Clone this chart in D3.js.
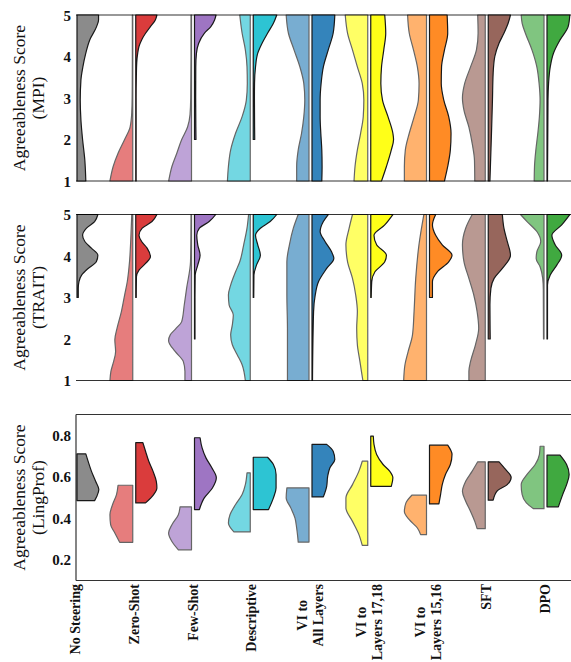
<!DOCTYPE html>
<html>
<head>
<meta charset="utf-8">
<script src="https://cdn.jsdelivr.net/npm/d3@7"></script>
<style>
  html, body { margin: 0; padding: 0; background: #fff; }
  svg { display: block; }
</style>
</head>
<body>
<svg id="chart" width="571" height="662"></svg>
<script>
// ---------------- DATA ----------------
const categories = ["No Steering", "Zero-Shot", "Few-Shot", "Descriptive", "VI to All Layers",
  "VI to Layers 17,18", "VI to Layers 15,16", "SFT", "DPO"];
const categoryLabelLines = [["No Steering"], ["Zero-Shot"], ["Few-Shot"], ["Descriptive"],
  ["VI to", "All Layers"], ["VI to", "Layers 17,18"], ["VI to", "Layers 15,16"], ["SFT"], ["DPO"]];
const categoryColors = ["#7f7f7f", "#d62728", "#9467bd", "#17becf", "#1f77b4",
  "#ffff00", "#ff7f0e", "#8c564b", "#2ca02c"];

const mpiTicks = [1, 2, 3, 4, 5];
const traitTicks = [1, 2, 3, 4, 5];
const lingTicks = [0.2, 0.4, 0.6, 0.8];

// density profiles: [score, relative density]; left half = lighter, right half = darker
const mpiLeft = [
  null,
  [[1,23.3],[1.35,20],[1.67,15],[2,8.3],[2.3,2.7],[2.65,1],[3,0.6],[4,0.4],[5,0.4]],
  [[1,23.3],[1.35,20],[1.67,15],[2,10],[2.3,4],[2.6,1.5],[3,0.8],[4,0.5],[5,0.5]],
  [[1,23.3],[1.35,22.3],[1.75,20],[2.15,15],[2.55,8.3],[2.95,4],[3.35,3],[3.75,3.3],[4.16,5],[4.56,8.3],[5,10.7]],
  [[1,12.6],[1.35,12.6],[1.75,11],[2.15,7.6],[2.55,5.3],[2.95,4.3],[3.35,5.3],[3.75,9.3],[4.16,15.3],[4.56,21],[5,23.3]],
  [[1,14],[1.35,13],[1.75,10.6],[2.15,7.3],[2.55,4.6],[2.95,4],[3.35,5.6],[3.75,10.6],[4.16,15.6],[4.56,20.6],[5,23]],
  [[1,22.6],[1.35,22.6],[1.75,21.6],[2.15,17.6],[2.55,12.6],[2.95,8.3],[3.35,7.6],[3.75,9.3],[4.16,13.3],[4.56,17.6],[5,19.3]],
  [[1,10.7],[1.5,11],[1.9,13.3],[2.3,16.7],[2.7,21.7],[3,23.3],[3.35,21],[3.75,15],[4.16,9],[4.56,7.3],[5,7.7]],
  [[1,10],[1.35,9.7],[1.75,8.3],[2.15,6.3],[2.55,4.7],[2.95,4],[3.35,5],[3.75,7.3],[4.16,12.3],[4.56,19],[4.8,22.3],[5,23.3]]
];
const mpiRight = [
  [[1,9],[1.5,8],[2,5.7],[2.47,4],[2.95,3.3],[3.43,4],[3.75,6],[4.08,9],[4.4,13],[4.72,20],[4.88,22],[5,22]],
  [[1,0.4],[3,0.4],[3.5,0.6],[3.85,1],[4.08,2],[4.24,3.3],[4.4,6],[4.56,10],[4.72,15],[4.88,20],[5,21.6]],
  [[2,1.5],[3,1.2],[3.75,1.3],[4.08,2],[4.32,4.3],[4.56,10],[4.72,16.7],[4.88,20.5],[5,22]],
  [[2,1.5],[3,1.2],[3.35,1.3],[3.75,2.3],[4.08,4.6],[4.32,9],[4.56,14.6],[4.8,20.6],[5,24]],
  [[1,10],[1.35,10.3],[1.75,10],[2.15,9],[2.55,8.3],[2.95,8.3],[3.35,9.3],[3.75,11.6],[4.16,16.6],[4.56,21.6],[5,23.3]],
  [[1,11],[1.35,16],[1.75,21],[2,23.3],[2.15,22.6],[2.55,17.6],[2.95,12],[3.35,10.3],[3.75,11],[4.16,13.3],[4.56,15.3],[5,14.3]],
  [[1,15.3],[1.35,18.6],[1.75,21.3],[2.15,22],[2.55,19.6],[2.95,14.6],[3.35,12],[3.75,12.3],[4.16,15.3],[4.56,18.6],[5,18]],
  [[1,1.7],[2.15,3.3],[2.95,4.3],[3.6,5],[4,6.7],[4.32,11],[4.56,16],[4.8,20.3],[5,22.7]],
  [[1,0.5],[2.95,1],[3.35,1.6],[3.75,3.3],[4.08,6.6],[4.4,13.3],[4.72,21.6],[5,23.3]]
];

const traitLeft = [
  null,
  [[1,23.3],[1.22,22.3],[1.46,19.5],[1.7,17.5],[1.98,18.3],[2.26,16],[2.66,11.6],[3.06,8.3],[3.38,5.6],[3.86,3.3],[4.4,2],[5,1]],
  [[1,6.7],[1.22,6.7],[1.46,8.4],[1.7,16.7],[1.96,23.4],[2.1,21.7],[2.25,16],[2.42,10],[2.82,7.4],[3.22,5],[3.86,1],[4.5,0.6],[5,0.5]],
  [[1,5],[1.38,8.3],[1.62,13.3],[1.86,18.3],[2.1,20],[2.34,18.3],[2.58,17.3],[2.82,21.6],[3.06,22.3],[3.3,20],[3.62,15],[3.86,10.7],[4.27,6.7],[4.67,3.3],[5,1.7]],
  [[1,22],[1.46,22],[2.26,22],[3.06,22.6],[3.86,22.6],[4.27,20],[4.67,16],[5,11]],
  [[1,5],[1.46,8],[1.86,10.6],[2.26,11.3],[2.66,10.6],[3.06,12.3],[3.46,15.6],[3.86,20.6],[4.27,22.3],[4.67,19],[5,15.6]],
  [[1,23.3],[1.38,22],[1.7,18.7],[2.1,14.3],[2.66,12.7],[3.46,11],[4.27,7.7],[5,2.7]],
  [[1,16.7],[1.22,16.7],[1.46,15],[1.86,10],[2.26,6.7],[2.66,8.3],[3.06,11.7],[3.46,16.7],[3.86,21.7],[4.27,23.3],[4.67,20],[5,13.3]],
  [[2,0.5],[3.2,0.7],[3.46,1.3],[3.74,4],[3.94,8],[4.1,7.3],[4.35,3.3],[4.59,7.3],[4.83,17.3],[5,24]]
];
const traitRight = [
  [[3,1.3],[3.22,1.3],[3.38,2],[3.54,4.7],[3.7,11.3],[3.86,19.7],[4.02,21.3],[4.19,14.7],[4.35,8],[4.5,5.7],[4.67,9.7],[4.83,18],[5,21.3]],
  [[3,0.5],[3.5,0.7],[3.66,3.3],[3.82,10],[3.98,15],[4.19,11.6],[4.35,6],[4.5,3.3],[4.67,6.6],[4.83,16.6],[5,21.6]],
  [[2,0.5],[3,0.5],[3.54,0.7],[3.78,3.3],[4.02,5.7],[4.27,3.3],[4.5,2.3],[4.67,5],[4.83,15],[5,21.7]],
  [[3,0.5],[3.54,0.7],[3.78,3.3],[4.02,7.3],[4.27,4.6],[4.5,2.3],[4.67,7.3],[4.83,17.3],[5,24]],
  [[1,0.5],[2.66,1.6],[3.06,3.3],[3.38,6.6],[3.7,15],[3.94,22.3],[4.1,20],[4.35,13.3],[4.59,8.3],[4.83,11.6],[5,16.6]],
  [[3,0.5],[3.38,1],[3.62,4.3],[3.86,14.3],[4.02,16],[4.27,6],[4.5,3.3],[4.75,14.3],[5,22.6]],
  [[3,3],[3.38,3],[3.62,8],[3.86,19.6],[4.02,23],[4.27,13],[4.5,6.3],[4.75,3],[5,6.3]],
  [[2,2],[2.82,1.7],[3.22,2.7],[3.46,6],[3.7,14.4],[4.02,22.7],[4.35,19.4],[4.67,16],[5,14.4]],
  [[2,0.5],[3.3,0.5],[3.54,3.3],[3.78,10],[4.02,15],[4.27,8.3],[4.5,5],[4.75,15],[5,23.3]]
];

const lingLeft = [
  null,
  [[0.284,13.3],[0.329,18.3],[0.369,22.6],[0.417,23.3],[0.466,20.6],[0.514,16.6],[0.559,15]],
  [[0.248,13.4],[0.288,20],[0.329,23.4],[0.369,20],[0.417,13.4],[0.455,11.7]],
  [[0.334,16.7],[0.377,22.3],[0.417,20.7],[0.466,15],[0.514,8.3],[0.562,5],[0.619,3.3]],
  [[0.285,11],[0.353,12.6],[0.401,14.3],[0.45,18.6],[0.498,23.3],[0.546,22.6]],
  [[0.269,5.6],[0.321,9],[0.385,15.6],[0.45,22.3],[0.498,22.3],[0.562,15.6],[0.627,9],[0.675,5.6]],
  [[0.321,6],[0.353,9.3],[0.393,17.6],[0.433,22.6],[0.474,21],[0.511,15]],
  [[0.35,8.3],[0.385,10.7],[0.433,15],[0.482,20],[0.53,23.3],[0.578,20],[0.627,13.3],[0.672,7.7]],
  [[0.446,10.7],[0.474,18],[0.514,22.3],[0.562,23.3],[0.611,17.3],[0.659,9],[0.707,4.7],[0.747,4]]
];
const lingRight = [
  [[0.485,18],[0.506,20.3],[0.538,22.3],[0.578,19],[0.627,14.7],[0.675,11.3],[0.71,9]],
  [[0.474,10],[0.514,18.3],[0.546,21.6],[0.578,21],[0.627,17.6],[0.675,13.3],[0.723,10],[0.764,7.3]],
  [[0.442,5],[0.498,10],[0.546,18.3],[0.595,22.3],[0.643,17.7],[0.691,11.7],[0.74,7.7],[0.788,5.7]],
  [[0.442,15.6],[0.498,20.6],[0.546,23.3],[0.611,23.3],[0.659,20.6],[0.694,14.6]],
  [[0.503,11.6],[0.554,15],[0.602,16],[0.643,18.3],[0.683,23.3],[0.723,21.6],[0.756,15]],
  [[0.554,21],[0.595,22.6],[0.627,19.3],[0.659,12.6],[0.707,6],[0.756,3.3],[0.796,2.6]],
  [[0.469,9.6],[0.514,11.3],[0.562,13],[0.611,16.3],[0.659,21.3],[0.707,23],[0.752,18.6]],
  [[0.487,5],[0.533,9.4],[0.562,19.4],[0.598,23.4],[0.635,17.7],[0.672,11]],
  [[0.455,11.6],[0.514,16],[0.562,20],[0.611,22.6],[0.659,20],[0.704,13.3]]
];

// ---------------- LAYOUT ----------------
const svg = d3.select("#chart");
const plotLeft = 76, plotRight = 620;
const x = d3.scalePoint().domain(categories).range([75.5, 545.5]);
const step = x.step();
const w = d3.scaleLinear().domain([0, 24]).range([0, step * 0.4]);
const gap = 1.5;
const serif = "'Liberation Serif', 'Times New Roman', serif";

const panels = [
  { left: mpiLeft, right: mpiRight, domain: [1, 5], range: [181, 15], ticks: mpiTicks,
    fmt: d3.format("d"), title: ["Agreeableness Score", "(MPI)"], leftSpine: false },
  { left: traitLeft, right: traitRight, domain: [1, 5], range: [380.5, 214.5], ticks: traitTicks,
    fmt: d3.format("d"), title: ["Agreeableness Score", "(TRAIT)"], leftSpine: false },
  { left: lingLeft, right: lingRight, domain: [0.1, 0.9], range: [580.5, 414.5], ticks: lingTicks,
    fmt: d3.format(".1f"), title: ["Agreeableness Score", "(LingProf)"], leftSpine: true }
];

panels.forEach(p => {
  const y = d3.scaleLinear().domain(p.domain).range(p.range);
  const g = svg.append("g");
  const yTop = p.range[1], yBot = p.range[0];

  // spines
  g.append("line").attr("x1", plotLeft).attr("x2", plotRight).attr("y1", yTop).attr("y2", yTop)
    .attr("stroke", "#333").attr("stroke-width", 1.2);
  g.append("line").attr("x1", plotLeft).attr("x2", plotRight).attr("y1", yBot).attr("y2", yBot)
    .attr("stroke", "#333").attr("stroke-width", 1.2);
  if (p.leftSpine) {
    g.append("line").attr("x1", plotLeft).attr("x2", plotLeft).attr("y1", yTop).attr("y2", yBot)
      .attr("stroke", "#333").attr("stroke-width", 1.2);
  }

  // violins
  categories.forEach((c, i) => {
    const cx = x(c);
    [[p.left[i], -1, 0.6], [p.right[i], 1, 0.9]].forEach(([prof, side, op]) => {
      if (!prof) return;
      const area = d3.area()
        .curve(d3.curveMonotoneY)
        .y(d => y(d[0]))
        .x0(cx + side * gap)
        .x1(d => cx + side * (gap + w(d[1])));
      g.append("path")
        .attr("d", area(prof))
        .attr("fill", categoryColors[i])
        .attr("stroke", "#000")
        .attr("stroke-width", 1.2)
        .attr("stroke-linejoin", "round")
        .attr("opacity", op);
    });
  });

  // y tick labels
  g.selectAll("text.tick").data(p.ticks).enter().append("text")
    .attr("x", 71).attr("y", d => y(d)).attr("dy", "0.38em")
    .attr("text-anchor", "end")
    .attr("font-family", serif).attr("font-weight", "bold").attr("font-size", 15)
    .attr("fill", "#111")
    .text(d => p.fmt(d));

  // y title
  const midY = (yTop + yBot) / 2;
  p.title.forEach((t, k) => {
    g.append("text")
      .attr("transform", `translate(${k === 0 ? 18.5 : 37.5},${midY}) rotate(-90)`)
      .attr("text-anchor", "middle")
      .attr("dominant-baseline", "central")
      .attr("font-family", serif).attr("font-size", 17.5)
      .attr("fill", "#111")
      .text(t);
  });
});

// x category labels (rotated, two-line where needed)
const labelTop = 584, lineGap = 16;
categories.forEach((c, i) => {
  const lines = categoryLabelLines[i];
  const lg = svg.append("g").attr("transform", `translate(${x(c)},${labelTop}) rotate(-90)`);
  const texts = lines.map((t, k) => lg.append("text")
    .attr("y", (k - (lines.length - 1) / 2) * lineGap)
    .attr("text-anchor", "middle")
    .attr("dominant-baseline", "central")
    .attr("font-family", serif).attr("font-weight", "bold").attr("font-size", 14)
    .attr("fill", "#111")
    .text(t));
  const maxLen = d3.max(texts, t => t.node().getComputedTextLength());
  texts.forEach(t => t.attr("x", -maxLen / 2));
});
</script>
</body>
</html>
